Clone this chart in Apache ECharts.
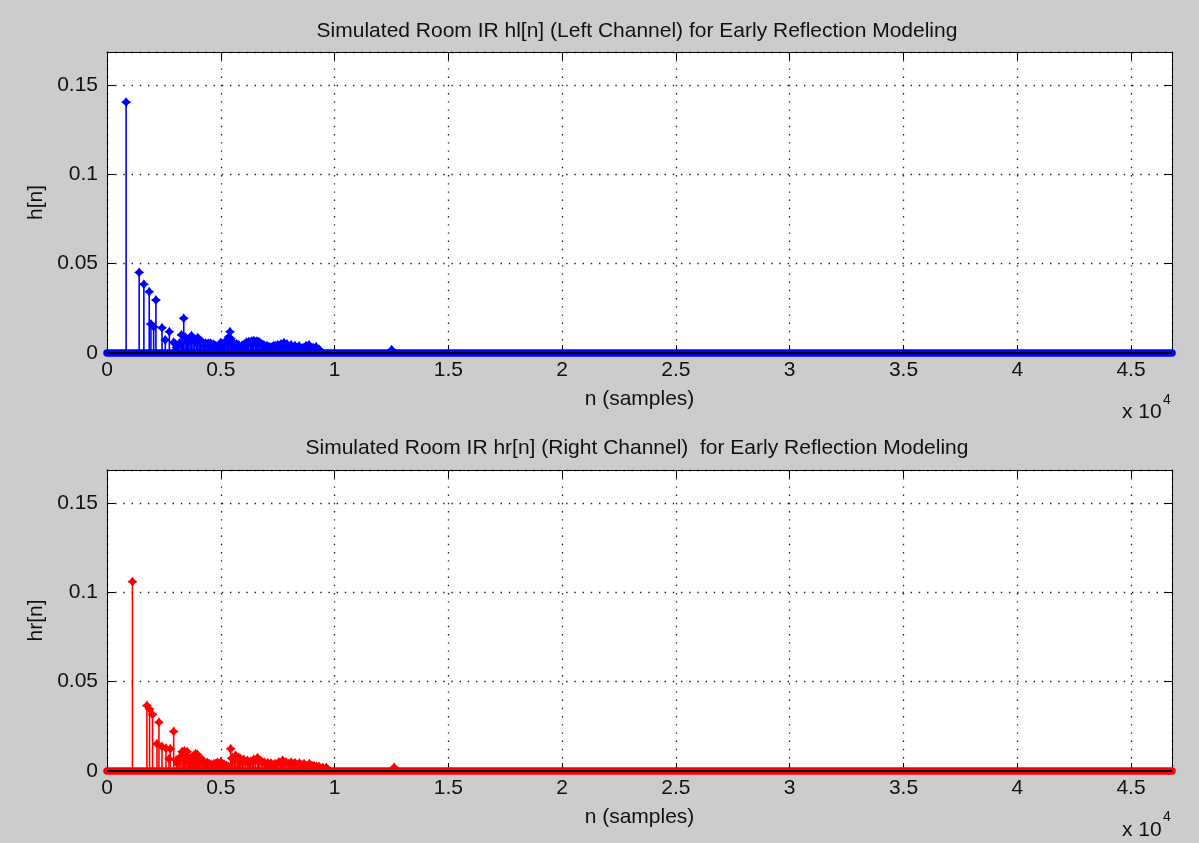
<!DOCTYPE html>
<html>
<head>
<meta charset="utf-8">
<script src="https://cdn.jsdelivr.net/npm/echarts@6/dist/echarts.min.js"></script>
<style>
  html, body { margin: 0; padding: 0; background: #cccccc; }
  #chart { width: 1199px; height: 843px; }
</style>
</head>
<body>
<div id="chart"></div>
<script>
// Length of the impulse responses (samples) and shared amplitude limit
const nMax = 46800;
const yMax = 0.1685;

// Left channel: sample index and amplitude of the main reflections
const leftN = [840, 1414, 1620, 1856, 1930, 2050, 2150, 2417, 2563, 2740, 2930, 3005, 3100,
  3270, 3372, 3491, 3593, 3712, 3845, 3990, 4110, 4229, 4331, 4463, 4552, 4684, 4773, 4905,
  4994, 5082, 5170, 5290, 5405, 5480, 5568, 5701, 5789, 5922, 6054, 6142, 6231, 6363, 6452,
  6584, 6673, 6805, 6894, 7026, 7115, 7203, 7336, 7499, 7645, 7777, 7910, 8087, 8263, 8440,
  8617, 8750, 8882, 9059, 9191, 9324, 12510];
const leftV = [0.1404, 0.0451, 0.0385, 0.0343, 0.0162, 0.0147, 0.0296, 0.0141, 0.0073, 0.0119,
  0.0060, 0.0050, 0.0040, 0.0101, 0.0194, 0.0080, 0.0073, 0.0097, 0.0067, 0.0085, 0.0070,
  0.0054, 0.0055, 0.0054, 0.0054, 0.0049, 0.0041, 0.0040, 0.0058, 0.0050, 0.0060, 0.0073,
  0.0119, 0.0060, 0.0058, 0.0050, 0.0045, 0.0040, 0.0050, 0.0060, 0.0063, 0.0066, 0.0069,
  0.0066, 0.0063, 0.0050, 0.0045, 0.0040, 0.0035, 0.0032, 0.0040, 0.0045, 0.0050, 0.0058,
  0.0050, 0.0045, 0.0040, 0.0039, 0.0030, 0.0040, 0.0045, 0.0030, 0.0035, 0.0020, 0.0018];
// Left channel: weaker taps in the diffuse tail
const leftMinorN = [3050, 3180, 3320, 3430, 3540, 3650, 3780, 3920, 4050, 4170, 4280, 4400,
  4510, 4620, 4730, 4840, 4950, 5040, 5120, 5230, 5350, 5440, 5520, 5640, 5745, 5860, 5990,
  6100, 6190, 6300, 6410, 6520, 6630, 6740, 6850, 6960, 7070, 7160, 7270, 7420, 7570, 7710,
  7840, 8000, 8170, 8350, 8530, 8680, 8810, 8970, 9120, 9260];
const leftMinorV = [0.0030, 0.0055, 0.0065, 0.0090, 0.0060, 0.0085, 0.0080, 0.0060, 0.0075,
  0.0060, 0.0045, 0.0050, 0.0040, 0.0045, 0.0035, 0.0030, 0.0045, 0.0040, 0.0045, 0.0055,
  0.0090, 0.0080, 0.0050, 0.0045, 0.0035, 0.0030, 0.0045, 0.0055, 0.0050, 0.0060, 0.0055,
  0.0060, 0.0050, 0.0055, 0.0040, 0.0035, 0.0030, 0.0025, 0.0035, 0.0040, 0.0040, 0.0045,
  0.0040, 0.0035, 0.0035, 0.0030, 0.0025, 0.0030, 0.0035, 0.0025, 0.0025, 0.0020];

// Right channel: sample index and amplitude of the main reflections
const rightN = [1118, 1754, 1870, 2003, 2195, 2283, 2417, 2593, 2725, 2780, 2930, 3049, 3151,
  3301, 3403, 3522, 3624, 3712, 3800, 3889, 3977, 4065, 4185, 4286, 4406, 4507, 4596, 4697,
  4848, 4994, 5139, 5259, 5435, 5524, 5657, 5789, 5877, 6010, 6173, 6319, 6452, 6615, 6717,
  6907, 7070, 7203, 7380, 7556, 7720, 7866, 8087, 8263, 8454, 8661, 8896, 9103, 9324, 9634,
  12620];
const rightV = [0.1060, 0.0366, 0.0347, 0.0316, 0.0152, 0.0273, 0.0137, 0.0127, 0.0068, 0.0124,
  0.0221, 0.0060, 0.0059, 0.0108, 0.0112, 0.0108, 0.0068, 0.0075, 0.0085, 0.0096, 0.0092,
  0.0070, 0.0063, 0.0050, 0.0047, 0.0040, 0.0035, 0.0040, 0.0047, 0.0049, 0.0038, 0.0030,
  0.0124, 0.0075, 0.0087, 0.0075, 0.0068, 0.0065, 0.0059, 0.0055, 0.0065, 0.0074, 0.0060,
  0.0049, 0.0045, 0.0044, 0.0040, 0.0050, 0.0059, 0.0050, 0.0049, 0.0045, 0.0044, 0.0040,
  0.0040, 0.0030, 0.0025, 0.0020, 0.0020];
// Right channel: weaker taps in the diffuse tail
const rightMinorN = [3100, 3230, 3350, 3460, 3570, 3670, 3760, 3850, 3930, 4020, 4120, 4230,
  4340, 4460, 4550, 4650, 4770, 4920, 5060, 5200, 5340, 5480, 5590, 5720, 5830, 5940, 6090,
  6250, 6390, 6530, 6670, 6810, 6990, 7140, 7290, 7470, 7640, 7790, 7980, 8170, 8360, 8560,
  8780, 9000, 9210, 9480];
const rightMinorV = [0.0040, 0.0080, 0.0095, 0.0090, 0.0055, 0.0070, 0.0060, 0.0080, 0.0075,
  0.0060, 0.0050, 0.0055, 0.0040, 0.0035, 0.0030, 0.0030, 0.0040, 0.0040, 0.0040, 0.0030,
  0.0025, 0.0070, 0.0065, 0.0070, 0.0060, 0.0055, 0.0050, 0.0045, 0.0050, 0.0060, 0.0055,
  0.0050, 0.0040, 0.0035, 0.0035, 0.0040, 0.0045, 0.0045, 0.0040, 0.0040, 0.0035, 0.0035,
  0.0030, 0.0030, 0.0025, 0.0020];

// Tick spacing of both axes
const xStep = 5000;
const yStep = 0.05;

const titles = [
  'Simulated Room IR hl[n] (Left Channel) for Early Reflection Modeling',
  'Simulated Room IR hr[n] (Right Channel)  for Early Reflection Modeling'
];
const yNames = ['h[n]', 'hr[n]'];
const colors = ['#0000ff', '#ff0000'];

const FONT = '"Liberation Sans", Arial, Helvetica, sans-serif';
const TXT = '#111111';
const FS = 21;

const grids = [
  { left: 107, top: 52, width: 1065, height: 301 },
  { left: 107, top: 470, width: 1065, height: 301 }
];

const markerPath = 'path://M0,-5 L2.1,-2.1 L5,0 L2.1,2.1 L0,5 L-2.1,2.1 L-5,0 L-2.1,-2.1 Z';

function xLabel(v) {
  const k = v / xStep;
  return Math.abs(k - Math.round(k)) < 1e-9 ? String(v / 10000) : '';
}
function yLabel(v) {
  const k = v / yStep;
  return Math.abs(k - Math.round(k)) < 1e-6 ? String(+(Math.round(k) * yStep).toFixed(2)) : '';
}

const dotted = { color: '#222222', width: 1.3, type: [1.4, 6.8] };

const xAxes = [], yAxes = [], series = [], titleList = [], graphics = [];

function pairs(ns, vs) {
  return ns.map(function (n, i) { return [n, vs[i]]; });
}

[0, 1].forEach(function (g) {
  // bottom x axis with labels and grid
  xAxes.push({
    gridIndex: g, type: 'value', min: 0, max: nMax, interval: xStep,
    name: 'n (samples)', nameLocation: 'middle', nameGap: 36,
    nameTextStyle: { fontFamily: FONT, fontSize: FS, color: TXT },
    axisLine: { show: true, onZero: false, lineStyle: { color: '#000', width: 1 } },
    axisTick: { show: true, inside: true, length: 8, lineStyle: { color: '#000' } },
    axisLabel: { margin: 7, fontFamily: FONT, fontSize: FS, color: TXT, formatter: xLabel },
    splitLine: { show: true, lineStyle: dotted }
  });
  // top x axis: box edge and ticks only
  xAxes.push({
    gridIndex: g, type: 'value', min: 0, max: nMax, interval: xStep, position: 'top',
    axisLine: { show: true, onZero: false, lineStyle: { color: '#000', width: 1 } },
    axisTick: { show: true, inside: true, length: 8, lineStyle: { color: '#000' } },
    axisLabel: { show: false }, splitLine: { show: false }
  });
  // left y axis with labels and grid
  yAxes.push({
    gridIndex: g, type: 'value', min: 0, max: yMax, interval: yStep,
    name: yNames[g], nameLocation: 'middle', nameGap: 60,
    nameTextStyle: { fontFamily: FONT, fontSize: FS, color: TXT },
    axisLine: { show: true, onZero: false, lineStyle: { color: '#000', width: 1 } },
    axisTick: { show: true, inside: true, length: 8, lineStyle: { color: '#000' } },
    axisLabel: { margin: 9, fontFamily: FONT, fontSize: FS, color: TXT, formatter: yLabel },
    splitLine: { show: true, lineStyle: dotted }
  });
  // right y axis: box edge and ticks only
  yAxes.push({
    gridIndex: g, type: 'value', min: 0, max: yMax, interval: yStep, position: 'right',
    axisLine: { show: true, onZero: false, lineStyle: { color: '#000', width: 1 } },
    axisTick: { show: true, inside: true, length: 8, lineStyle: { color: '#000' } },
    axisLabel: { show: false }, splitLine: { show: false }
  });

  const pts = g === 0
    ? pairs(leftMinorN, leftMinorV).concat(pairs(leftN, leftV))
    : pairs(rightMinorN, rightMinorV).concat(pairs(rightN, rightV));
  const col = colors[g];
  const xi = g * 2, yi = g * 2;

  // zero-valued samples: their markers merge into a solid band on the zero line
  series.push({
    type: 'line', xAxisIndex: xi, yAxisIndex: yi, data: [[0, 0], [nMax, 0]],
    symbol: 'none', clip: false, silent: true, z: 2,
    lineStyle: { color: col, width: 7.5, cap: 'round' }
  });
  // stems
  series.push({
    type: 'custom', xAxisIndex: xi, yAxisIndex: yi, data: pts, z: 3, silent: true,
    renderItem: function (params, api) {
      const p0 = api.coord([api.value(0), 0]);
      const p1 = api.coord([api.value(0), api.value(1)]);
      return {
        type: 'line',
        shape: { x1: p0[0], y1: p0[1], x2: p1[0], y2: p1[1] },
        style: { stroke: col, lineWidth: 1.6 }
      };
    }
  });
  // stem heads
  series.push({
    type: 'scatter', xAxisIndex: xi, yAxisIndex: yi, data: pts, z: 4, silent: true,
    symbol: markerPath, symbolSize: [10, 10],
    itemStyle: { color: col, opacity: 1 }
  });
  // stem baseline
  series.push({
    type: 'line', xAxisIndex: xi, yAxisIndex: yi, data: [[0, 0], [nMax, 0]],
    symbol: 'none', clip: false, silent: true, z: 6,
    lineStyle: { color: '#000000', width: 2 }
  });

  titleList.push({
    text: titles[g], left: 632, top: g === 0 ? 16 : 433, textAlign: 'center',
    textStyle: { fontFamily: FONT, fontSize: FS, fontWeight: 'normal', color: TXT }
  });

  const yOff = g === 0 ? 0 : 417.5;
  // exponent of the x axis scale
  graphics.push({
    type: 'text', left: 1122, top: 402 + yOff,
    style: { text: 'x 10', font: FS + 'px ' + FONT, fill: TXT }
  });
  graphics.push({
    type: 'text', left: 1163, top: 393 + yOff,
    style: { text: '4', font: '14px ' + FONT, fill: TXT }
  });
});

const chart = echarts.init(document.getElementById('chart'), null, { renderer: 'canvas' });
chart.setOption({
  backgroundColor: '#cccccc',
  animation: false,
  title: titleList,
  grid: grids.map(function (gr) {
    return Object.assign({ show: true, backgroundColor: '#ffffff', borderWidth: 0, containLabel: false }, gr);
  }),
  xAxis: xAxes,
  yAxis: yAxes,
  series: series,
  graphic: graphics
});
</script>
</body>
</html>
